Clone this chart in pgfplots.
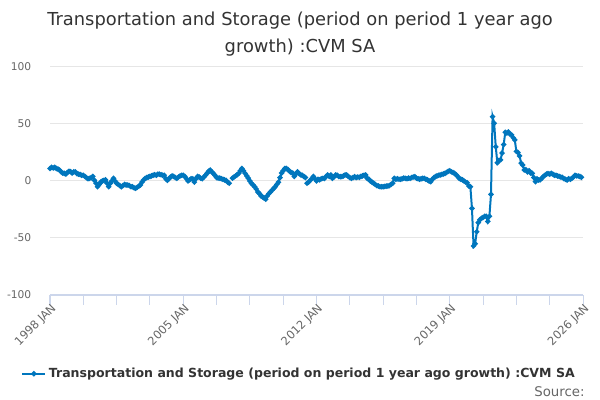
\documentclass[border=0pt]{standalone}
\usepackage{pgfplots}
\pgfplotsset{compat=1.18}
\usepackage{fontspec}
\setmainfont{DejaVu Sans}
\definecolor{linec}{RGB}{0,118,189}
\definecolor{axisc}{RGB}{204,214,235}
\definecolor{gridc}{RGB}{230,230,230}
\definecolor{labc}{RGB}{102,102,102}
\definecolor{titc}{RGB}{51,51,51}
\begin{document}
\begin{tikzpicture}
\path[use as bounding box] (0,0) rectangle (450pt,300pt);
\node[align=center, font=\fontsize{13.4}{20.5}\selectfont, text=titc] at (225pt,274.5pt)
  {Transportation and Storage (period on period 1 year ago\\growth) :CVM SA};
\begin{axis}[
  scale only axis,
  width=399.75pt, height=171pt,
  anchor=south west, at={(37.5pt,78.75pt)},
  xmin=0, xmax=336, ymin=-100, ymax=100,
  axis lines*=left,
  x axis line style={-, draw=axisc, line width=0.75pt},
  y axis line style={draw=none},
  ytick={-100,-50,0,50,100},
  yticklabels={-100,-50,0,50,100},
  ytick style={draw=none},
  ymajorgrids, grid style={gridc, line width=0.75pt},
  yticklabel style={font=\fontsize{8}{9}\selectfont, text=labc, xshift=-3pt},
  xtick={0,84,168,252,336},
  xticklabels={1998 JAN,2005 JAN,2012 JAN,2019 JAN,2026 JAN},
  minor xtick={21,42,63,105,126,147,189,210,231,273,294,315},
  xtick style={draw=axisc, line width=0.75pt},
  minor x tick style={draw=axisc, line width=0.75pt},
  tick align=outside, major tick length=7.5pt, minor tick length=7.5pt,
  xticklabel style={font=\fontsize{8.6}{9}\selectfont, text=labc, rotate=45, anchor=north east, inner sep=1pt, xshift=2.5pt, yshift=2pt},
  unbounded coords=jump,
  clip=false,
  legend style={at={(0.468,-0.345)}, anchor=center, draw=none, fill=none,
    font=\bfseries\fontsize{9.4}{11}\selectfont, text=titc},
  legend image post style={mark size=1.2pt},
]
\addplot[color=linec, line width=1.5pt, mark=*, mark size=1.15pt, mark options={fill=linec, draw=linec}] table {
x y
0 11
1 12
2 11.5
3 12
4 11
5 10.5
6 9.6
7 8
8 7
9 6.7
10 6
11 7.5
12 8.5
13 8.2
14 7
15 8
16 8
17 6.5
18 6
19 5.7
20 5
21 5
22 4
23 2.9
24 2
25 2.3
26 3
27 4
28 0.6
29 -2
30 -5
31 -3
32 -1
33 0
34 0.5
35 1
36 -2
37 -5
38 -2
39 0
40 2.3
41 0
42 -2
43 -3
44 -4
45 -5
46 -4
47 -3
48 -3.5
49 -3.5
50 -4
51 -5
52 -5
53 -6
54 -6.4
55 -5.5
56 -4.5
57 -3.5
58 -1
59 1
60 2.3
61 3
62 3.5
63 4
64 4.5
65 5
66 5.5
67 5
68 6
69 6
70 5.5
71 5
72 5
73 2
74 0.6
75 2
76 3.5
77 4.5
78 4
79 3
80 2.3
81 3.5
82 4.5
83 5
84 5
85 4
86 2
87 0
88 1
89 2
90 2
91 -1
92 2
93 4
94 3.5
95 2.5
96 2
97 3.5
98 5
99 6.7
100 8.5
101 9.6
102 8
103 6.7
104 5
105 3
106 2.5
107 2.5
108 2
109 1.5
110 1
111 0.5
112 -1
113 -2
114 nan
115 2.5
116 3.5
117 4.5
118 5.5
119 6.7
120 9
121 11
122 9
123 6.7
124 4.5
125 2.5
126 0
127 -2
128 -3.5
129 -5
130 -7
131 -9.6
132 -11
133 -13
134 -14
135 -15
136 -16
137 -13
138 -11
139 -9.5
140 -8
141 -6.5
142 -5
143 -3
144 -1
145 3
146 7
147 9
148 11
149 11
150 10
151 8.5
152 7.5
153 7
154 4
155 6
156 8
157 6.5
158 5.5
159 5
160 4
161 3
161.5 nan
162 -2
163 -1
164 0.6
165 2
166 4
167 2
168 0
169 1.5
170 1
171 2
172 2.3
173 2.3
174 4
175 5.3
176 4
177 5.3
178 2.3
179 3.5
180 5.3
181 5
182 4
183 3.8
184 3.8
185 4.5
186 5.3
187 5.3
188 4
189 3
190 2.3
191 3
192 3.8
193 3
194 3.5
195 3.2
196 4
197 4.5
198 5
199 5.3
200 2.3
201 1.5
202 0
203 -1
204 -2
205 -3
206 -4
207 -4.4
208 -5
209 -5
210 -5
211 -4.8
212 -4.5
213 -4.4
214 -4
215 -3
216 -2
217 2.3
218 1.5
219 2
220 1.5
221 1.5
222 2
223 2.5
224 2.3
225 2
226 2.5
227 2.3
228 3
229 3.5
230 3.8
231 2.5
232 2
233 1.5
234 2
235 2.3
236 2.3
237 1.5
238 1
239 0
240 -0.6
241 1.5
242 3
243 3.8
244 4.5
245 5
246 5.3
247 5.8
248 6.2
249 6.7
250 7.5
251 8.5
252 9
253 8
254 7.5
255 6.7
256 5.5
257 4
258 2.3
259 1.5
260 1
261 0
262 -1
263 -1.5
264 -4.4
265 -5
266 -24
267 -57
268 -55
269 -44.5
270 -36.5
271 -34
272 -32.7
273 -32
274 -31
275 -31
276 -35.5
277 -31
278 -11.7
279 56.4
280 50.6
281 30
282 16
283 18
284 18.6
285 24.5
286 32
287 42.7
288 42
289 43
290 41
291 40.5
292 38
293 36
294 26
295 25
296 22
297 15.7
298 14
299 9.7
300 10
301 8
302 9
303 7
304 6.7
305 3
306 -0.6
307 2
308 0.9
309 1
310 2.3
311 4
312 5
313 6
314 6.5
315 6
316 6.7
317 6
318 5
319 5
320 4.4
321 4
322 3.5
323 3.2
324 2
325 1.5
326 0.9
327 2
328 1.5
329 2.3
330 3.5
331 5
332 4.5
333 4.4
334 4
335 3.2
};
\addlegendentry{Transportation and Storage (period on period 1 year ago growth) :CVM SA}
\end{axis}
\node[anchor=east, text=labc, font=\fontsize{10}{12}\selectfont] at (442pt,6pt) {Source:};
\end{tikzpicture}
\end{document}
